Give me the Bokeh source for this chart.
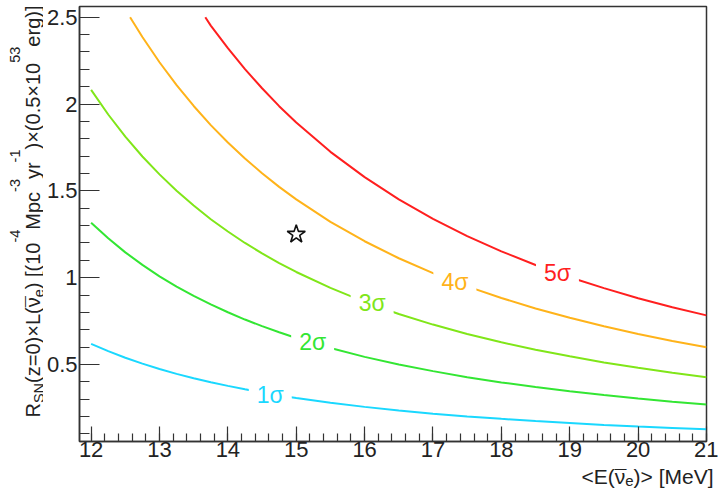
import math
from bokeh.plotting import figure
from bokeh.layouts import row, column
from bokeh.models import Range1d, SingleIntervalTicker, ColumnDataSource
from bokeh.core.properties import value
from bokeh.embed import file_html
from bokeh.resources import INLINE

# ---------------- data ----------------
e_1s = [12, 12.25, 12.5, 12.75, 13, 13.25, 13.5, 13.75, 14, 14.25, 14.5, 14.75, 15, 15.5,
        16, 16.5, 17, 17.5, 18, 18.5, 19, 19.5, 20, 20.5, 21]
r_1s = [0.619, 0.577, 0.539, 0.505, 0.474, 0.446, 0.421, 0.398, 0.377, 0.357, 0.339, 0.322,
        0.307, 0.280, 0.256, 0.235, 0.217, 0.201, 0.187, 0.174, 0.163, 0.152, 0.143, 0.135, 0.127]
e_2s = e_1s
r_2s = [1.317, 1.227, 1.146, 1.074, 1.008, 0.949, 0.895, 0.846, 0.801, 0.759, 0.721, 0.686,
        0.653, 0.595, 0.544, 0.500, 0.462, 0.427, 0.397, 0.370, 0.346, 0.324, 0.304, 0.286, 0.270]
e_3s = e_1s
r_3s = [2.082, 1.940, 1.813, 1.698, 1.595, 1.501, 1.416, 1.337, 1.266, 1.200, 1.140, 1.084,
        1.033, 0.941, 0.861, 0.791, 0.730, 0.676, 0.628, 0.585, 0.547, 0.512, 0.481, 0.453, 0.427]
e_4s = [12.57, 12.75, 13, 13.25, 13.5, 13.75, 14, 14.25, 14.5, 14.75, 15, 15.5,
        16, 16.5, 17, 17.5, 18, 18.5, 19, 19.5, 20, 20.5, 21]
r_4s = [2.5, 2.386, 2.241, 2.109, 1.989, 1.879, 1.779, 1.687, 1.602, 1.523, 1.451, 1.322,
        1.210, 1.112, 1.026, 0.950, 0.883, 0.823, 0.769, 0.720, 0.676, 0.636, 0.600]
e_5s = [13.67, 13.75, 14, 14.25, 14.5, 14.75, 15, 15.5, 16, 16.5, 17, 17.5, 18, 18.5,
        19, 19.5, 20, 20.5, 21]
r_5s = [2.5, 2.452, 2.322, 2.201, 2.091, 1.988, 1.894, 1.725, 1.579, 1.451, 1.339, 1.239,
        1.152, 1.073, 1.003, 0.940, 0.882, 0.830, 0.783]

curve_names = ["1σ", "2σ", "3σ", "4σ", "5σ"]
curve_colors = ["#1ad8ff", "#33e633", "#80e619", "#ffb31a", "#ff1f1f"]
label_e = [14.62, 15.24, 16.11, 17.32, 18.82]
label_r = [0.325, 0.628, 0.856, 0.973, 1.026]

star_e = [15.0]
star_r = [1.25]

x_ticks = [12, 13, 14, 15, 16, 17, 18, 19, 20, 21]
y_ticks = [0.5, 1.0, 1.5, 2.0, 2.5]
y_tick_labels = ["0.5", "1", "1.5", "2", "2.5"]

# ---------------- layout ----------------
W, H = 718, 488
LW = 43            # strip on the left holding the y title
BH = 22            # strip at the bottom holding the x title
MH = H - BH        # height of the main plot and of the left strip
FL, FR, FT, FB = 76, 706, 6, 441   # plot frame in page pixels
X0, X1 = 11.83, 21.0
Y0, Y1 = 0.0566, 2.562
FONT = "Liberation Sans"
TXT = "#222222"

p = figure(width=W - LW, height=MH, x_range=Range1d(X0, X1), y_range=Range1d(Y0, Y1),
           output_backend="svg", toolbar_location=None,
           min_border_left=FL - LW, min_border_right=W - FR,
           min_border_top=FT, min_border_bottom=MH - FB)
p.grid.visible = False
p.background_fill_color = "white"
p.border_fill_color = "white"
p.outline_line_color = "#333333"
p.outline_line_width = 1.5

p.xaxis.ticker = SingleIntervalTicker(interval=1, num_minor_ticks=5)
p.yaxis.ticker = SingleIntervalTicker(interval=0.5, num_minor_ticks=5)
p.yaxis.major_label_overrides = {v: s for v, s in zip(y_ticks, y_tick_labels)}
for ax in (p.xaxis[0], p.yaxis[0]):
    ax.axis_line_color = "#333333"
    ax.axis_line_width = 1.5
    ax.major_tick_line_color = "#333333"
    ax.minor_tick_line_color = "#333333"
    ax.major_tick_line_width = 1.2
    ax.minor_tick_line_width = 1.2
    ax.major_tick_out = 0
    ax.minor_tick_out = 0
    ax.major_label_text_font = FONT
    ax.major_label_text_font_size = "22px"
    ax.major_label_text_color = TXT
p.xaxis.major_tick_in = 15
p.xaxis.minor_tick_in = 8
p.yaxis.major_tick_in = 20
p.yaxis.minor_tick_in = 10
p.xaxis.major_label_standoff = 0
p.yaxis.major_label_standoff = 2

for e, r, c in zip([e_1s, e_2s, e_3s, e_4s, e_5s], [r_1s, r_2s, r_3s, r_4s, r_5s], curve_colors):
    p.line(e, r, line_color=c, line_width=2)

lab_src = ColumnDataSource(dict(x=label_e, y=label_r, t=curve_names, c=curve_colors))
p.text(x="x", y="y", text="t", source=lab_src, text_color="c",
       text_font=value(FONT), text_font_size="23px",
       text_align="center", text_baseline="middle",
       background_fill_color="white", padding=8)

p.scatter(star_e, star_r, marker="star", size=19, fill_color="white",
          line_color="#111111", line_width=1.6)


# ---------------- strips for the axis titles ----------------
def strip(w, h, xr, yr, top=0, bottom=0):
    f = figure(width=w, height=h, x_range=Range1d(*xr), y_range=Range1d(*yr),
               output_backend="svg", toolbar_location=None,
               x_axis_location=None, y_axis_location=None,
               min_border_left=0, min_border_right=0,
               min_border_top=top, min_border_bottom=bottom)
    f.grid.visible = False
    f.outline_line_color = None
    f.background_fill_color = "white"
    f.border_fill_color = "white"
    return f

# left strip shares the main plot's vertical frame (6..441) and y range
left = strip(LW, MH, (0, LW), (Y0, Y1), top=FT, bottom=MH - FB)
# bottom strip: page x 0..718 -> data 0..718, page y MH..H -> data BH..0
bottom = strip(W, BH, (0, W), (0, BH))

WID = {' ': .278, '(': .333, ')': .333, '[': .278, ']': .278, '<': .584, '>': .584,
       '=': .584, '×': .584, '.': .278, '-': .333, 'R': .722, 'S': .667, 'N': .722,
       'z': .5, 'L': .556, 'E': .667, 'M': .833, 'e': .556, 'V': .667, 'p': .556,
       'c': .5, 'y': .5, 'r': .333, 'g': .556, 'ν': .5}
for d in "0123456789":
    WID[d] = .556

BASE_FIX = 0.27    # measured offset of the drawn baseline, in em


def width(text, size):
    return sum(WID[ch] for ch in text) * size


def put(fig, text, x, y, size, angle):
    fig.text(x=[x], y=[y], text=[text], text_font=value(FONT),
             text_font_size=f"{size}px", text_color=TXT,
             text_align="left", text_baseline="alphabetic", angle=angle)


def place(fig, pieces, start_px, start_py, rotated, to_data, sizes, shifts):
    pos = 0.0
    for text, kind in pieces:
        size = sizes[kind]
        off = shifts[kind] - BASE_FIX * size
        if rotated:
            px, py = start_px + off, start_py - pos
        else:
            px, py = start_px + pos, start_py + off
        x, y = to_data(px, py)
        ang = math.pi / 2 if rotated else 0
        put(fig, text, x, y, size, ang)
        if kind == 'bar':
            put(fig, "¯", x, y, size, ang)
        pos += width(text, size)
    return pos


def left_map(px, py):
    return px, Y0 + (FB - py) / (FB - FT) * (Y1 - Y0)


def bottom_map(px, py):
    return px, H - py


y_title = [("R", 'n'), ("SN", 'sub'), ("(z=0)×L(", 'n'), ("ν", 'bar'), ("e", 'sub'),
           (") [(10", 'n'), ("-4", 'sup'), ("Mpc", 'n'), ("-3", 'sup'), ("yr", 'n'),
           ("-1", 'sup'), (")×(0.5×10", 'n'), ("53", 'sup'), ("erg)]", 'n')]
place(left, y_title, 38, 417, True, left_map,
      {'n': 20, 'bar': 20, 'sub': 14.5, 'sup': 14.5},
      {'n': 0, 'bar': 0, 'sub': 4, 'sup': -20})

x_title = [("<E(", 'n'), ("ν", 'bar'), ("e", 'sub'), (")> [MeV]", 'n')]
xs = {'n': 21, 'bar': 21, 'sub': 15, 'sup': 15}
xt_w = sum(width(t, xs[k]) for t, k in x_title)
place(bottom, x_title, 713 - xt_w, 482, False, bottom_map, xs,
      {'n': 0, 'bar': 0, 'sub': 3, 'sup': -19})

layout = column(row(left, p, spacing=0), bottom, spacing=0)
open("out.html", "w").write(file_html(layout, INLINE))
